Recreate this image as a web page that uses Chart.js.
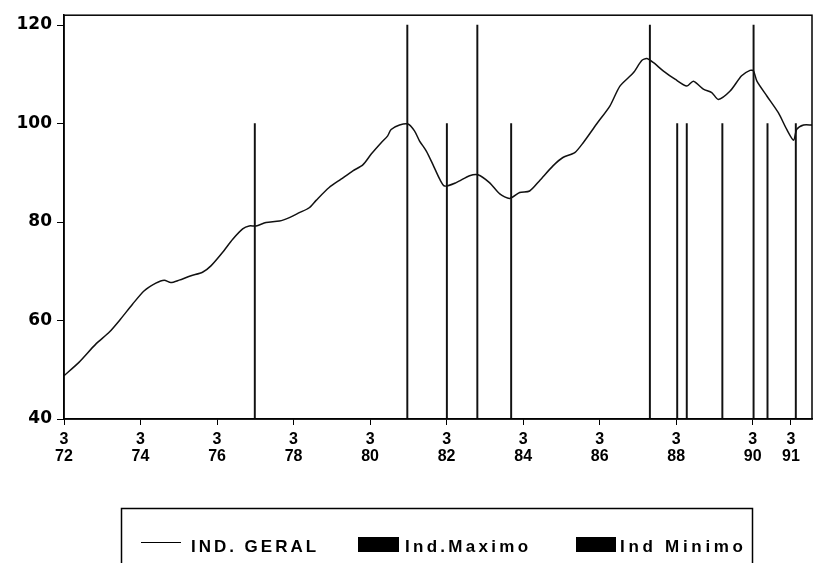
<!DOCTYPE html>
<html><head><meta charset="utf-8">
<script src="https://cdn.jsdelivr.net/npm/chart.js@4/dist/chart.umd.min.js"></script>
<style>html,body{margin:0;padding:0;background:#fff}#wrap{width:816px;height:563px;position:relative}</style>
</head><body><div id="wrap"><canvas id="c" width="816" height="563"></canvas></div>
<script>
// ---- data ----
const years = [72.00,72.39,72.83,73.18,73.48,73.79,74.09,74.40,74.62,74.79,75.01,75.32,75.62,75.84,76.14,76.41,76.67,76.84,77.02,77.28,77.63,77.89,78.15,78.41,78.59,78.93,79.24,79.55,79.81,80.03,80.29,80.46,80.55,80.77,80.99,81.16,81.29,81.47,81.64,81.82,81.95,82.25,82.60,82.82,83.12,83.39,83.65,83.91,84.17,84.43,84.78,85.04,85.35,85.57,85.92,86.27,86.53,86.88,87.10,87.23,87.40,87.66,87.97,88.28,88.45,88.71,88.93,89.10,89.41,89.71,89.93,90.02,90.11,90.37,90.67,90.89,91.07,91.15,91.33,91.55];
const indGeral = [48.8,51.5,55.2,57.6,60.3,63.3,66.0,67.6,68.2,67.7,68.2,69.1,69.8,71.1,73.8,76.5,78.6,79.2,79.2,79.9,80.2,80.9,81.9,82.9,84.4,87.0,88.7,90.4,91.6,93.8,96.1,97.5,98.8,99.7,99.9,98.5,96.5,94.4,91.7,88.7,87.3,88.0,89.4,89.6,88.0,85.7,84.8,86.0,86.3,88.4,91.4,93.1,94.1,96.1,99.9,103.6,107.6,110.3,112.8,113.2,112.4,110.7,109.0,107.6,108.6,107.0,106.3,104.9,106.6,109.7,110.8,110.7,108.6,105.6,102.2,98.8,96.6,98.8,99.7,99.7];
const maxYears = [80.99,82.82,87.33,90.04];
const maxValues = [120,120,120,120];
const minYears = [76.97,81.99,83.67,88.01,88.26,89.19,90.37,91.11];
const minValues = [100,100,100,100,100,100,100,100];
const tickYears = [72,74,76,78,80,82,84,86,88,90,91];
const tickLabels = [["3","72"],["3","74"],["3","76"],["3","78"],["3","80"],["3","82"],["3","84"],["3","86"],["3","88"],["3","90"],["3","91"]];
const yTicks = [40,60,80,100,120];
const seriesNames = ["IND. GERAL","Ind.Maximo","Ind Minimo"];

const boxPlugin = {
  id: 'boxPlugin',
  afterDraw(chart) {
    const ctx = chart.ctx, a = chart.chartArea;
    ctx.save();
    ctx.strokeStyle = '#000';
    ctx.lineWidth = 1.5;
    ctx.strokeRect(a.left, a.top, a.right - a.left, a.bottom - a.top);
    // legend box
    ctx.strokeRect(121.5, 508.5, 631, 80);
    ctx.fillStyle = '#000';
    ctx.lineWidth = 1.2;
    ctx.beginPath(); ctx.moveTo(141, 542.5); ctx.lineTo(181, 542.5); ctx.stroke();
    ctx.fillRect(358, 537, 41, 15);
    ctx.fillRect(576, 537, 40, 15);
    ctx.font = 'bold 17px "Liberation Sans", Arial, sans-serif';
    ctx.textBaseline = 'alphabetic';
    const items = [[seriesNames[0], 191, 125], [seriesNames[1], 405, 123], [seriesNames[2], 620, 123]];
    for (const [t, x, w] of items) {
      ctx.letterSpacing = '0px';
      const nat = ctx.measureText(t).width;
      const ls = Math.max(0, (w - nat) / (t.length - 1));
      ctx.letterSpacing = ls.toFixed(2) + 'px';
      ctx.fillText(t, x, 551.5);
    }
    ctx.restore();
  }
};

new Chart(document.getElementById('c'), {
  type: 'line',
  data: {
    datasets: [
      { label: seriesNames[0], data: years.map((x, i) => ({x, y: indGeral[i]})), borderColor: '#111', borderWidth: 1.5, pointRadius: 0, tension: 0.25, fill: false, order: 0 },
      { type: 'bar', label: seriesNames[1], data: maxYears.map((x, i) => ({x, y: [40, maxValues[i]]})), backgroundColor: '#111', barThickness: 1.3, order: 1 },
      { type: 'bar', label: seriesNames[2], data: minYears.map((x, i) => ({x, y: [40, minValues[i]]})), backgroundColor: '#111', barThickness: 1.3, order: 1 }
    ]
  },
  options: {
    responsive: false,
    animation: false,
    devicePixelRatio: 1,
    layout: { padding: { top: 14, right: 4, left: 0, bottom: 0 } },
    plugins: { legend: { display: false }, tooltip: { enabled: false } },
    scales: {
      x: {
        type: 'linear', min: 72, max: 91.55, offset: false,
        afterBuildTicks: s => { s.ticks = tickYears.map(v => ({value: v})); },
        afterFit: s => { s.height = 144; },
        grid: { drawOnChartArea: false, drawTicks: true, tickLength: 6, color: '#000', offset: false },
        border: { display: true, color: '#000', width: 1.5 },
        ticks: {
          autoSkip: false, maxRotation: 0, padding: 6, color: '#000',
          font: { family: '"Liberation Sans Narrow", "Liberation Sans", Arial, sans-serif', weight: 'bold', size: 16, lineHeight: 1.05 },
          callback: v => { const i = tickYears.indexOf(v); return i >= 0 ? tickLabels[i] : ''; }
        }
      },
      y: {
        min: 40, max: 122,
        afterBuildTicks: s => { s.ticks = yTicks.map(v => ({value: v})); },
        afterFit: s => { s.width = 64; },
        grid: { drawOnChartArea: false, drawTicks: true, tickLength: 7, color: '#000' },
        border: { display: true, color: '#000', width: 1.5 },
        ticks: { padding: 5, color: '#000', font: { family: '"DejaVu Sans", sans-serif', weight: 'bold', size: 17 } }
      }
    }
  },
  plugins: [boxPlugin]
});
</script>
</body></html>
